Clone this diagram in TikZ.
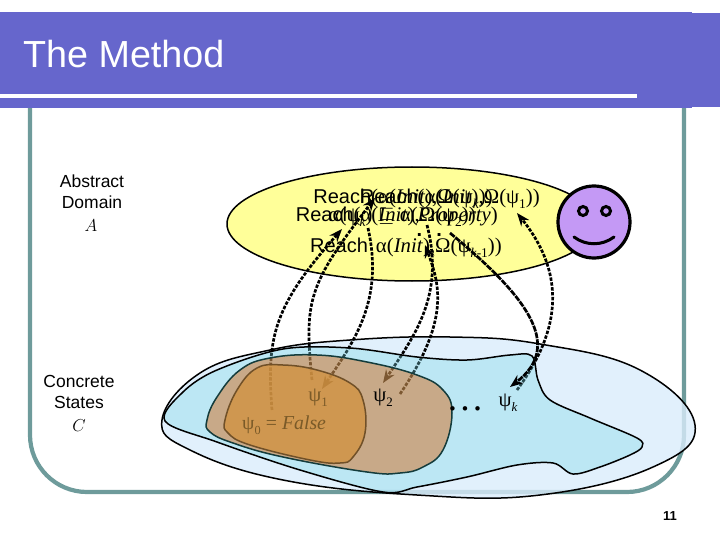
\documentclass[tikz,border=0pt]{standalone}
\usepackage{fontspec}
\setmainfont{Liberation Sans}
\newfontfamily\tmsfam[Scale=1.04]{Liberation Serif}
\usetikzlibrary{shapes.geometric, arrows.meta}

\definecolor{bandblue}{RGB}{102,102,204}
\definecolor{frameteal}{RGB}{110,155,155}
\definecolor{ovalyellow}{RGB}{255,255,153}
\definecolor{faceviolet}{RGB}{196,153,245}
\definecolor{outerblue}{RGB}{218,236,251}
\definecolor{midblue}{RGB}{120,214,229}
\definecolor{psibrown}{RGB}{215,104,19}
\definecolor{psiorange}{RGB}{210,146,63}
\definecolor{psiedge}{RGB}{20,60,60}
\definecolor{orangeedge}{RGB}{112,80,40}
\definecolor{psitext}{RGB}{122,90,40}

\newcommand{\tms}[1]{{\tmsfam #1}}
\newcommand{\psisub}[1]{\tms{ψ}\raisebox{-0.25em}{\fontsize{0.62em}{0.62em}\selectfont\tms{#1}}}
\newcommand{\reachrow}[1]{Reach\tms{(α(\textit{Init}),Ω(\psisub{#1}))}}

\begin{document}
\begin{tikzpicture}[
    x=1pt, y=-1pt,
    sidelabel/.style={align=center, inner sep=0pt, font=\fontsize{17.5}{21.5}\selectfont},
    rowtext/.style={anchor=east, inner sep=0pt, font=\fontsize{20}{20}\selectfont},
    psilabel/.style={inner sep=0pt, font=\fontsize{20}{20}\selectfont},
    absedge/.style={-{Stealth[length=13pt,width=10pt]}, black, line width=2.7pt, dash pattern=on 3.4pt off 1.5pt},
    blobline/.style={line width=1.5pt, smooth cycle, tension=0.7}
  ]
  \useasboundingbox (0,0) rectangle (720,540);

  % Frame and title band
  \draw[frameteal, line width=4.2pt, rounded corners=57pt] (30,100) -- (30,492) -- (684,492) -- (684,100);
  \fill[bandblue] (0,12) rectangle (692,108);
  \fill[bandblue] (633,13) rectangle (720,107);
  \fill[white] (0,94) rectangle (637,98);
  \node[anchor=base west, inner sep=0pt, text=white, font=\fontsize{37.7}{37.7}\selectfont] (title) at (23,68) {The Method};

  % Side labels
  \node[sidelabel] (abstract) at (92,191.5) {Abstract\\Domain};
  \node[sidelabel] (domsym) at (91,226) {$A$};
  \node[sidelabel] (concrete) at (79,392) {Concrete\\States};
  \node[sidelabel] (statesym) at (79,426) {$C$};

  % Abstract side
  \node[ellipse, draw=black, line width=1.5pt, fill=ovalyellow, minimum width=370pt, minimum height=114pt, inner sep=0pt] (oval) at (412,224) {};
  \node[rowtext] (rowk) at (493,198.5) {\reachrow{\textit{k}}};
  \node[rowtext] (rowone) at (540,198.5) {\reachrow{1}};
  \node[rowtext] (rowtwo) at (476,216.5) {\reachrow{2}};
  \node[rowtext] (rowprop) at (498,216.5) {\tms{α(\psisub{\textit{k}})} $\sqsubseteq$ \tms{α(\textit{Property})}};
  \node[rowtext, font=\bfseries\fontsize{20}{20}\selectfont] (rowdots) at (442,235) {.\hspace{14pt}.};
  \node[rowtext] (rowlast) at (502,248) {Reach\hspace{8pt}\tms{α(\textit{Init}),Ω(\psisub{\textit{k}-1}))}};

  % Smiley
  \node[circle, draw=black, line width=3.2pt, fill=faceviolet, minimum size=72pt, inner sep=0pt] (face) at (594,222) {};
  \node[circle, draw=black, line width=3pt, fill=faceviolet, minimum size=9pt, inner sep=0pt] (eyel) at (583,211) {};
  \node[circle, draw=black, line width=3pt, fill=faceviolet, minimum size=9pt, inner sep=0pt] (eyer) at (606,211) {};
  \coordinate (mouthl) at (574,237);
  \coordinate (mouthr) at (614,237);
  \draw[black, line width=3pt, line cap=round] (mouthl) .. controls (586,246) and (602,246) .. (mouthr);

  % Concrete side, outer blob
  \draw[blobline, fill=outerblue, fill opacity=0.8] plot coordinates {(162,420) (200,373) (270,350) (350,340) (450,337) (540,344) (640,370) (695,425) (653,467) (540,495) (417,495) (283,480) (190,450)};

  \coordinate (tailone) at (272,410);
  \coordinate (headone) at (342,229);
  \coordinate (tailtwo) at (312,380);
  \coordinate (headtwo) at (375,198);
  \coordinate (tailthree) at (368,228);
  \coordinate (headthree) at (322,389);
  \coordinate (tailfour) at (400,394);
  \coordinate (headfour) at (425,245);
  \coordinate (tailfive) at (427,225);
  \coordinate (headfive) at (383,383);
  \coordinate (tailsix) at (450,233);
  \coordinate (headsix) at (510,387);
  \coordinate (tailseven) at (517,390);
  \coordinate (headseven) at (517,213);

  % Refinement arrows
  \draw[absedge] (tailone) .. controls (266,335) and (275,305) .. (headone);
  \draw[absedge] (tailtwo) .. controls (304,300) and (308,285) .. (headtwo);
  \draw[absedge] (tailthree) .. controls (384,300) and (355,340) .. (headthree);
  \draw[absedge] (tailfour) .. controls (450,320) and (440,285) .. (headfour);
  \draw[absedge] (tailfive) .. controls (445,295) and (415,335) .. (headfive);
  \draw[absedge] (tailseven) .. controls (550,345) and (575,285) .. (headseven);

  % Nested regions
  \draw[blobline, tension=0.55, fill=midblue, fill opacity=0.35] plot coordinates {(165,421) (183,392) (217,370) (283,349) (350,348) (417,357) (467,360) (510,355) (532,356) (538,380) (550,400) (590,418) (637,438) (642,447) (630,455) (600,467) (573,474) (553,463) (517,465) (467,477) (417,487) (383,492) (300,470) (217,442)};
  \draw[blobline, draw=psiedge, fill=psibrown, fill opacity=0.48] plot coordinates {(207,420) (217,397) (240,370) (270,358) (317,355) (367,362) (417,375) (443,390) (452,413) (443,450) (423,467) (400,473) (367,472) (283,457) (233,443) (210,432)};
  \draw[blobline, draw=orangeedge, fill=psiorange, fill opacity=0.76] plot coordinates {(225,420) (237,390) (257,368) (283,365) (317,370) (350,383) (363,400) (365,433) (353,457) (340,463) (310,460) (250,445) (228,433)};

  % Arrow over the regions
  \draw[absedge, dash pattern=on 6pt off 1pt] (tailsix) .. controls (525,295) and (565,345) .. (headsix);

  % Region labels
  \node[psilabel, text=psitext] (psione) at (318,398) {\psisub{1}};
  \node[psilabel, text=psitext, anchor=west, font=\fontsize{19}{19}\selectfont] (psizero) at (242,425) {\psisub{0} \tms{= \textit{False}}};
  \node[psilabel] (psitwo) at (383,398) {\psisub{2}};
  \node[psilabel] (psik) at (508,403) {\psisub{\textit{k}}};
  \node[inner sep=0pt, anchor=base, font=\fontsize{36}{36}\selectfont] (psidots) at (465,410) {\tms{…}};

  \node[inner sep=0pt, font=\bfseries\fontsize{13}{13}\selectfont] (pagenum) at (670,516) {11};

\end{tikzpicture}
\end{document}
